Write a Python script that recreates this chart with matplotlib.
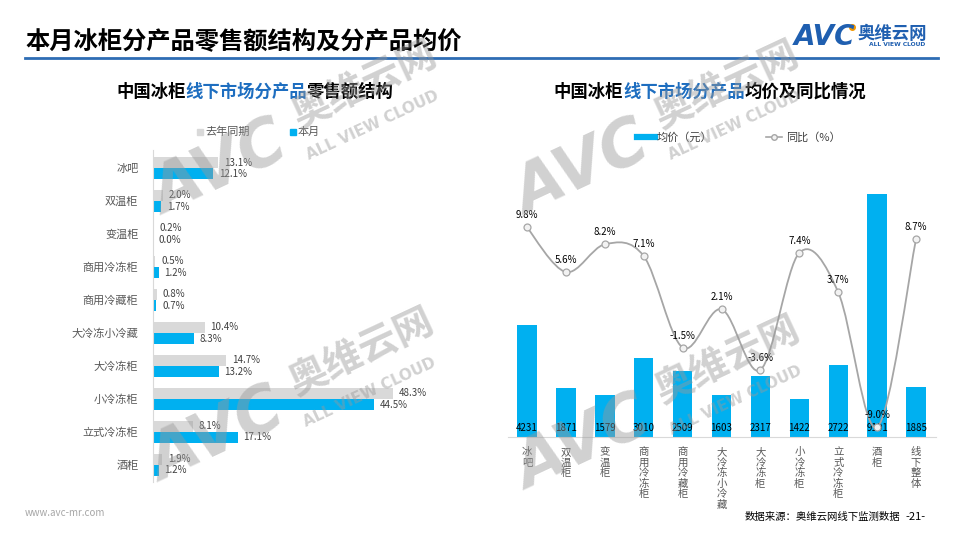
import numpy as np
import matplotlib
matplotlib.use('Agg')
import matplotlib.pyplot as plt
from matplotlib.path import Path
from matplotlib.patches import PathPatch
from matplotlib.lines import Line2D
from matplotlib.offsetbox import TextArea, HPacker, AnnotationBbox

plt.rcParams['font.family'] = ['Noto Sans CJK SC', 'DejaVu Sans']

# ---- data ----
share_cats = ['冰吧', '双温柜', '变温柜', '商用冷冻柜', '商用冷藏柜',
              '大冷冻小冷藏', '大冷冻柜', '小冷冻柜', '立式冷冻柜', '酒柜']
share_last = [13.1, 2.0, 0.2, 0.5, 0.8, 10.4, 14.7, 48.3, 8.1, 1.9]   # 去年同期
share_now = [12.1, 1.7, 0.0, 1.2, 0.7, 8.3, 13.2, 44.5, 17.1, 1.2]    # 本月

price_cats = ['冰吧', '双温柜', '变温柜', '商用冷冻柜', '商用冷藏柜', '大冷冻小冷藏',
              '大冷冻柜', '小冷冻柜', '立式冷冻柜', '酒柜', '线下整体']
avg_price = [4231, 1871, 1579, 3010, 2509, 1603, 2317, 1422, 2722, 9191, 1885]
yoy = [9.8, 5.6, 8.2, 7.1, -1.5, 2.1, -3.6, 7.4, 3.7, -9.0, 8.7]

BLUE = '#00B0F0'
GRAY = '#D9D9D9'
DARK_BLUE = '#1F5FB0'
TXT = '#404040'

W, H = 960, 540


def fx(x):
    return x / W


def fy(y):
    return 1 - y / H


fig = plt.figure(figsize=(9.6, 5.4), dpi=100)

# ---- header ----
fig.text(fx(25), fy(42), '本月冰柜分产品零售额结构及分产品均价', fontsize=17.5,
         weight='bold', va='center', color='black')
fig.add_artist(Line2D([fx(25), fx(938)], [fy(58), fy(58)], lw=2,
                      color='#2E6DB4', transform=fig.transFigure))

# logo
fig.text(fx(794), fy(37), 'AVC', fontsize=20, weight='bold', style='italic',
         color=DARK_BLUE, va='center', family='DejaVu Sans')
fig.add_artist(Line2D([fx(852)], [fy(27)], marker='o', ms=4, color='#F39800',
                      transform=fig.transFigure))
fig.text(fx(858), fy(34), '奥维云网', fontsize=12.5, weight='bold',
         color=DARK_BLUE, va='center')
fig.text(fx(897), fy(45), 'ALL VIEW CLOUD', fontsize=4.3, weight='bold',
         color=DARK_BLUE, ha='center', va='center', family='DejaVu Sans')


def rich_title(xc, y, parts, size=12.5):
    # several coloured pieces packed side by side and centred on xc
    areas = [TextArea(s, textprops=dict(color=c, fontsize=size, weight='bold'))
             for s, c in parts]
    box = HPacker(children=areas, sep=0, pad=0, align='baseline')
    ab = AnnotationBbox(box, (fx(xc), fy(y)), xycoords='figure fraction',
                        frameon=False, box_alignment=(0.5, 0.5), pad=0)
    fig.add_artist(ab)


rich_title(255, 92, [('中国冰柜', 'black'), ('线下市场分产品', '#1E6EC0'),
                     ('零售额结构', 'black')])
rich_title(710, 92, [('中国冰柜', 'black'), ('线下市场分产品', '#1E6EC0'),
                     ('均价及同比情况', 'black')])

# ---- left chart: share structure ----
ax1 = fig.add_axes([fx(153), fy(482), 317 / W, 332 / H])
y = np.arange(len(share_cats))
ax1.barh(y - 0.17, share_last, height=0.33, color=GRAY)
ax1.barh(y + 0.17, share_now, height=0.33, color=BLUE)
for yy, v in zip(y - 0.17, share_last):
    ax1.annotate(f'{v:.1f}%', (v, yy), xytext=(4, 0), textcoords='offset points',
                 va='center', fontsize=7, color=TXT)
for yy, v in zip(y + 0.17, share_now):
    ax1.annotate(f'{v:.1f}%', (v, yy), xytext=(4, 0), textcoords='offset points',
                 va='center', fontsize=7, color=TXT)
ax1.set_xlim(0, 63.8)
ax1.set_ylim(9.52, -0.55)
ax1.set_yticks(y)
ax1.set_yticklabels(share_cats, fontsize=8, color='#595959')
ax1.tick_params(left=False, bottom=False, labelbottom=False, pad=7)
for s in ['top', 'right', 'bottom']:
    ax1.spines[s].set_visible(False)
ax1.spines['left'].set_color(GRAY)

# left legend
fig.add_artist(Line2D([fx(200)], [fy(132)], marker='s', ms=4, color=GRAY,
                      transform=fig.transFigure))
fig.text(fx(205), fy(132), '去年同期', fontsize=8, color='#595959', va='center')
fig.add_artist(Line2D([fx(293)], [fy(132)], marker='s', ms=4, color=BLUE,
                      transform=fig.transFigure))
fig.text(fx(298), fy(132), '本月', fontsize=8, color='#595959', va='center')

# ---- right chart: average price + yoy ----
ax2 = fig.add_axes([fx(507.5), fy(437), 428 / W, 264 / H])
xs = np.arange(len(price_cats), dtype=float)
ax2.bar(xs, avg_price, width=0.5, color=BLUE)
for x, v in zip(xs, avg_price):
    ax2.annotate(str(v), (x, 0), xytext=(0, 3), textcoords='offset points',
                 ha='center', va='bottom', fontsize=7, color='black')
ax2.set_ylim(0, 10000)
ax2.set_xlim(-0.5, 10.5)
ax2.set_xticks(xs)
ax2.set_xticklabels(['\n'.join(c) for c in price_cats], fontsize=7.5,
                    color='#595959', linespacing=1.05)
for s in ['top', 'right', 'left']:
    ax2.spines[s].set_visible(False)
ax2.spines['bottom'].set_color(GRAY)

ax3 = ax2.twinx()
ax3.set_ylim(-9.9, 14.9)
pts = np.column_stack([xs, yoy])
n = len(pts)
verts = [pts[0]]
codes = [Path.MOVETO]
for i in range(n - 1):
    p0 = pts[i - 1] if i > 0 else pts[i]
    p3 = pts[i + 2] if i + 2 < n else pts[i + 1]
    verts += [pts[i] + (pts[i + 1] - p0) / 6, pts[i + 1] - (p3 - pts[i]) / 6, pts[i + 1]]
    codes += [Path.CURVE4] * 3
ax3.add_patch(PathPatch(Path(verts, codes), fill=False, edgecolor='#A6A6A6', lw=1.3))
ax3.plot(xs, yoy, ls='none', marker='o', ms=5, mfc='#F2F2F2', mec='#A6A6A6', mew=0.9)
for x, v in zip(xs, yoy):
    ax3.annotate(f'{v:.1f}%', (x, v), xytext=(0, 5), textcoords='offset points',
                 ha='center', va='bottom', fontsize=7, color='black')
for s in ax3.spines.values():
    s.set_visible(False)
# twinx switches the left ticks back on, so clear ticks afterwards
ax2.tick_params(axis='y', left=False, right=False, labelleft=False, labelright=False)
ax2.tick_params(axis='x', bottom=False, pad=4)
ax3.tick_params(axis='y', left=False, right=False, labelleft=False, labelright=False)

# right legend
fig.add_artist(Line2D([fx(637), fx(655)], [fy(137), fy(137)], lw=4.5, color=BLUE,
                      transform=fig.transFigure))
fig.text(fx(657), fy(137), '均价（元）', fontsize=8, color='#404040', va='center')
fig.add_artist(Line2D([fx(766), fx(782)], [fy(137), fy(137)], lw=1.2, color='#A6A6A6',
                      transform=fig.transFigure))
fig.add_artist(Line2D([fx(774)], [fy(137)], marker='o', ms=4, mfc='#F2F2F2',
                      mec='#A6A6A6', transform=fig.transFigure))
fig.text(fx(786), fy(137), '同比（%）', fontsize=8, color='#404040', va='center')


# ---- watermarks ----
def watermark(cx, cy):
    kw = dict(rotation=25, ha='center', va='center', color='#999999', alpha=0.45,
              weight='bold')
    fig.text(fx(cx - 145), fy(cy + 85), 'AVC', fontsize=46, style='italic',
             family='DejaVu Sans', **kw)
    fig.text(fx(cx), fy(cy), '奥维云网', fontsize=28, **kw)
    fig.text(fx(cx + 8), fy(cy + 40), 'ALL VIEW CLOUD', fontsize=11,
             family='DejaVu Sans', **kw)


watermark(365, 85)
watermark(362, 352)
watermark(727, 85)
watermark(728, 360)

# ---- footer ----
fig.text(fx(25), fy(513), 'www.avc-mr.com', fontsize=7, color='#A6A6A6', va='center')
fig.text(fx(745), fy(517), '数据来源：奥维云网线下监测数据', fontsize=7.5, color='black',
         va='center')
fig.text(fx(905), fy(517), '-21-', fontsize=8, color='black', va='center')

fig.savefig('out.png', dpi=100)
